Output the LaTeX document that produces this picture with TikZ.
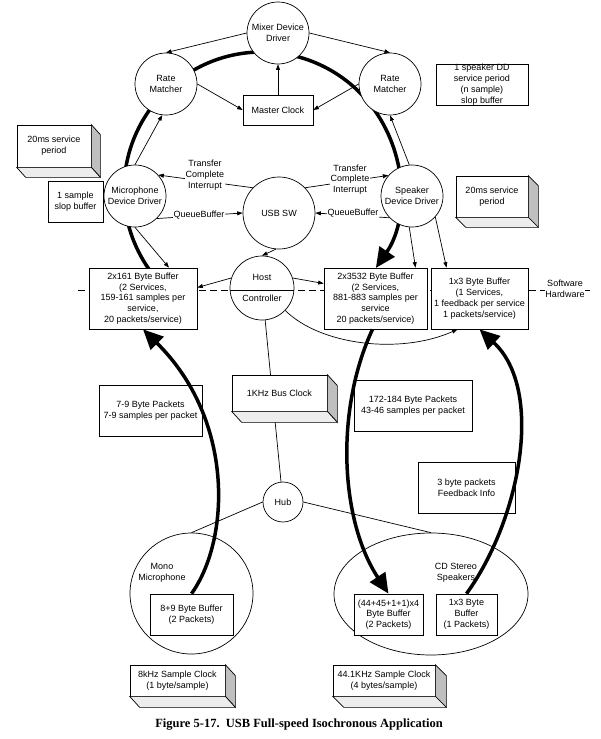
\documentclass[tikz,border=0pt]{standalone}
\usepackage{fontspec}
\setmainfont{Liberation Sans}
\newfontfamily\capfont{Liberation Serif}
\usetikzlibrary{arrows.meta,shapes.geometric,calc,backgrounds}
\definecolor{sidegray}{gray}{0.75}
\definecolor{botgray}{gray}{0.93}
\newcommand\threedsides[3]{%
  \filldraw[thinline, fill=sidegray] (#1.north east) -- ++(#2,#3) -- ($(#1.south east)+(#2,#3)$) -- (#1.south east) -- cycle;
  \filldraw[thinline, fill=botgray] (#1.south west) -- ++(#2,#3) -- ($(#1.south east)+(#2,#3)$) -- (#1.south east) -- cycle;}
\begin{document}
\begin{tikzpicture}[x=1pt,y=-1pt,
  every node/.style={font=\fontsize{9}{10.8}\selectfont, align=center, inner sep=0pt},
  thinline/.style={line width=0.7pt},
  circ/.style={circle, draw, fill=white, line width=0.7pt, minimum size=#1},
  bx/.style 2 args={rectangle, draw, fill=white, line width=0.7pt, minimum width=#1, minimum height=#2},
  arr/.style={line width=0.7pt, -{Triangle[length=5.5pt,width=4pt]}},
  heavy/.style={line width=3.5pt, -{Triangle[length=20pt,width=18pt]}},
  lbl/.style={fill=white, inner sep=1pt},
]
\useasboundingbox (0,0) rectangle (601,739);

% ellipses
\node[ellipse, draw, line width=0.7pt, minimum width=123pt, minimum height=121pt] (mono) at (191.5,593.5) {};
\node[ellipse, draw, line width=0.7pt, minimum width=194pt, minimum height=122pt] (cd) at (431,594) {};
\node (monol) at (162,572.5) {Mono\\Microphone};
\node (cdl) at (456,572.5) {CD Stereo\\Speakers};

% circles
\node[circ=62pt] (mixer) at (278,33) {Mixer Device\\Driver};
\node[circ=62pt] (rml) at (166,84) {Rate\\Matcher};
\node[circ=62pt] (rmr) at (390,84) {Rate\\Matcher};
\node[circ=62pt] (micdd) at (135,196) {Microphone\\Device Driver};
\node[circ=72pt] (usbsw) at (279,213) {USB SW};
\node[circ=62pt] (spkdd) at (412,196) {Speaker\\Device Driver};
\node[circ=64pt] (host) at (262,288) {Host\\[11pt]Controller};
\node[circ=40pt] (hub) at (283,502) {Hub};

% boxes
\node[bx={70pt}{30pt}] (mclock) at (278,110) {Master Clock};
\node[bx={92pt}{41pt}] (spkslop) at (482,84.5) {};
\node (spkslopt) at (spkslop) {1 speaker DD\\service period\\(n sample)\\slop buffer};
\node[bx={55pt}{41pt}] (slop1) at (75.5,201.5) {1 sample\\slop buffer};
\node[bx={108pt}{61pt}] (buf161) at (143,298.5) {2x161 Byte Buffer\\(2 Services,\\159-161 samples per\\service,\\20 packets/service)};
\node[bx={103pt}{61pt}] (buf3532) at (375.5,298.5) {2x3532 Byte Buffer\\(2 Services,\\881-883 samples per\\service\\20 packets/service)};
\node[bx={97pt}{61pt}] (buf13) at (479.5,298.5) {1x3 Byte Buffer\\(1 Services,\\1 feedback per service\\1 packets/service)};
\node[bx={103pt}{51pt}] (pk79) at (150.5,410.5) {7-9 Byte Packets\\7-9 samples per packet};
\node[bx={118pt}{51pt}] (pk172) at (413,405.5) {172-184 Byte Packets\\43-46 samples per packet};
\node[bx={97pt}{51pt}] (fb) at (466.5,487.5) {3 byte packets\\Feedback Info};
\node[bx={83pt}{41pt}] (b89) at (191.5,614.5) {8+9 Byte Buffer\\(2 Packets)};
\node[bx={69pt}{41pt}] (b44) at (388.5,614.5) {(44+45+1+1)x4\\Byte Buffer\\(2 Packets)};
\node[bx={61pt}{41pt}] (b13s) at (466.5,614.5) {1x3 Byte\\Buffer\\(1 Packets)};

% 3D boxes
\node[bx={74pt}{42pt}] (ms20l) at (54,146) {20ms service\\period};
\threedsides{ms20l}{9}{10}
\node[bx={72pt}{41pt}] (ms20r) at (492,196.5) {20ms service\\period};
\threedsides{ms20r}{10}{10}
\node[bx={95pt}{36pt}] (bus) at (279.5,393) {1KHz Bus Clock};
\threedsides{bus}{10}{11}
\node[bx={95pt}{31pt}] (clk8) at (177.5,680.5) {8kHz Sample Clock\\(1 byte/sample)};
\threedsides{clk8}{10}{11}
\node[bx={102pt}{31pt}] (clk44) at (384,680.5) {44.1KHz Sample Clock\\(4 bytes/sample)};
\threedsides{clk44}{11}{11}

% background items
\coordinate (dl) at (78,290);
\coordinate (dr) at (590,290);
\coordinate (ringc) at (262,190);
\begin{pgfonlayer}{background}
  \draw[thinline, dash pattern=on 7pt off 4pt] (dl) -- (dr);
  \draw[heavy] ($(ringc)+(145:138)$) arc[start angle=145, end angle=394.4, radius=138];
  \draw[thinline] (host) -- (hub);
\end{pgfonlayer}
\draw[thinline] ([yshift=-2pt]host.west) -- ([yshift=-2pt]host.east);
\node[fill=white, inner sep=0.5pt] (swhw) at (565,289) {Software\\Hardware};

% thin connectors
\draw[arr] (mixer.west) -- (rml.north);
\draw[arr] (mixer.east) -- (rmr.north);
\draw[arr] (rml.east) -- (mclock.west);
\draw[arr] (rmr.west) -- (mclock.east);
\draw[arr] (mclock.north) -- (mixer.south);
\draw[arr] (micdd.north) -- (rml.-97);
\draw[arr] (spkdd.95) -- (rmr.south);
\draw[arr] (usbsw.136) -- (micdd.42);
\node[lbl] (tcil) at (205,175) {Transfer\\Complete\\Interrupt};
\draw[arr] (micdd.-46) -- (usbsw.west);
\node[lbl] (qbl) at (199,215) {QueueBuffer};
\draw[arr] (usbsw.44) -- (spkdd.139);
\node[lbl] (tcir) at (350,179.5) {Transfer\\Complete\\Interrupt};
\draw[arr] (spkdd.-136) -- (usbsw.east);
\node[lbl] (qbr) at (353,213) {QueueBuffer};
\draw[arr] (micdd.south) -- ([xshift=26pt]buf161.north);
\draw[arr] (spkdd.-95) -- ([xshift=40pt]buf3532.north);
\draw[arr] (spkdd.-42) -- ([xshift=-33pt]buf13.north);
\draw[arr] (usbsw.-95) -- (host.north);
\draw[arr] (host.162) -- ([yshift=11pt]buf161.east);
\draw[arr] (host.18) -- ([yshift=15pt]buf3532.west);
\draw[arr] (host.-44) .. controls (320,345) and (400,355) .. ([xshift=-22pt]buf13.south);
\draw[thinline] (hub.west) -- (mono.north);
\draw[thinline] (hub.east) -- (cd.north);

% heavy data flows
\draw[heavy] (b89.north) .. controls (230,540) and (235,420) .. (buf161.south);
\draw[heavy] ([xshift=-3pt]buf3532.south) .. controls (335,410) and (340,520) .. (b44.north);
\draw[heavy] (b13s.north) .. controls (520,520) and (545,390) .. (buf13.south);

% caption
\node[font=\capfont\bfseries\fontsize{12.5}{14}\selectfont] (cap) at (299,725) {Figure 5-17.\ \ USB Full-speed Isochronous Application};
\end{tikzpicture}
\end{document}
